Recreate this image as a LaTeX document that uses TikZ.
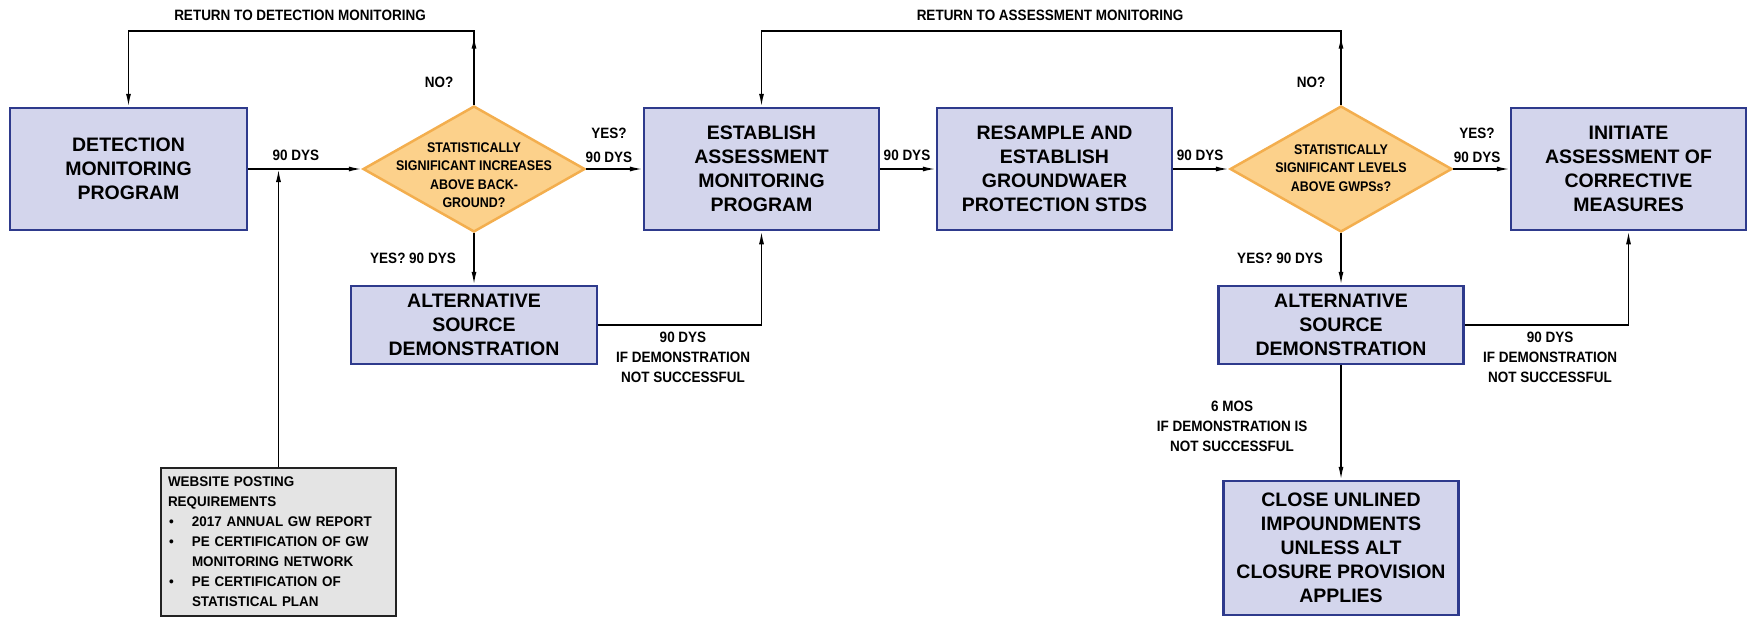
\documentclass[tikz,border=0pt]{standalone}
\usepackage{fontspec}
\setmainfont{Liberation Sans}
\newfontfamily\narrowf[FakeStretch=0.9]{Liberation Sans}
\newfontfamily\narrowg[FakeStretch=0.89]{Liberation Sans}
\newfontfamily\webf[FakeStretch=0.96]{Liberation Sans}
\usetikzlibrary{shapes.geometric,arrows.meta}
\definecolor{boxfill}{HTML}{D3D5EC}
\definecolor{boxline}{HTML}{2E3A8C}
\definecolor{dfill}{HTML}{FCD18B}
\definecolor{dline}{HTML}{F3AE4E}
\definecolor{wfill}{HTML}{E4E4E4}
\definecolor{wline}{HTML}{222222}
\begin{document}
\begin{tikzpicture}[x=1pt,y=-1pt,
  box/.style={draw=boxline,fill=boxfill,line width=2.5pt,inner sep=0pt,align=center,
    font=\fontsize{19.5}{24}\selectfont\bfseries},
  dia/.style={diamond,draw=dline,fill=dfill,line width=2.5pt,inner sep=0pt},
  dtext/.style={align=center,font=\narrowg\fontsize{14}{18.5}\selectfont\bfseries,inner sep=0pt},
  lbl/.style={align=center,font=\narrowf\fontsize{15}{20}\selectfont\bfseries,inner sep=0pt},
  lbltall/.style={align=center,font=\narrowf\fontsize{15}{24}\selectfont\bfseries,inner sep=0pt},
  webbox/.style={draw=wline,fill=wfill,line width=2pt,minimum width=235pt,minimum height=148pt,
    inner xsep=7pt,inner ysep=4pt,text width=221pt,align=left,
    font=\webf\fontsize{14}{20}\selectfont\bfseries},
  arr/.style={line width=1.5pt,-{Latex[length=13pt,width=5pt]}},
  ln/.style={line width=1.5pt}]
\useasboundingbox (0,0) rectangle (1750,618);

% boxes
\node[box,minimum width=237pt,minimum height=122pt] (det) at (128.5,169) {DETECTION\\MONITORING\\PROGRAM};
\node[dia,minimum width=222pt,minimum height=126pt] (d1) at (474,169) {};
\node[dtext] (d1t) at (474,175) {STATISTICALLY\\SIGNIFICANT INCREASES\\ABOVE BACK-\\GROUND?};
\node[box,minimum width=235pt,minimum height=122pt] (est) at (761.5,169) {ESTABLISH\\ASSESSMENT\\MONITORING\\PROGRAM};
\node[box,minimum width=235pt,minimum height=122pt] (res) at (1054.5,169) {RESAMPLE AND\\ESTABLISH\\GROUNDWAER\\PROTECTION STDS};
\node[dia,minimum width=222pt,minimum height=126pt] (d2) at (1341,169) {};
\node[dtext] (d2t) at (1341,168) {STATISTICALLY\\SIGNIFICANT LEVELS\\ABOVE GWPSs?};
\node[box,minimum width=235pt,minimum height=122pt] (ini) at (1628.5,169) {INITIATE\\ASSESSMENT OF\\CORRECTIVE\\MEASURES};
\node[box,minimum width=246pt,minimum height=78pt] (alt1) at (474,325) {ALTERNATIVE\\SOURCE\\DEMONSTRATION};
\node[box,minimum width=245pt,minimum height=78pt] (alt2) at (1341,325) {ALTERNATIVE\\SOURCE\\DEMONSTRATION};
\node[box,minimum width=235pt,minimum height=134pt] (close) at (1341,548) {CLOSE UNLINED\\IMPOUNDMENTS\\UNLESS ALT\\CLOSURE PROVISION\\APPLIES};
\node[webbox] (web) at (278.5,542) {\begin{tabular}{@{}p{24pt}@{}l@{}}
\multicolumn{2}{@{}l@{}}{WEBSITE POSTING}\\
\multicolumn{2}{@{}l@{}}{REQUIREMENTS}\\
\hspace{1pt}\textbullet & 2017 ANNUAL GW REPORT\\
\hspace{1pt}\textbullet & PE CERTIFICATION OF GW\\
 & MONITORING NETWORK\\
\hspace{1pt}\textbullet & PE CERTIFICATION OF\\
 & STATISTICAL PLAN
\end{tabular}};

% labels
\node[lbl] (l1) at (300,15) {RETURN TO DETECTION MONITORING};
\node[lbl] (l2) at (439,82) {NO?};
\node[lbl] (l3) at (296,155) {90 DYS};
\node[lbltall] (l4) at (609,145) {YES?\\90 DYS};
\node[lbl] (l5) at (413,258) {YES? 90 DYS};
\node[lbl] (l6) at (683,357) {90 DYS\\IF DEMONSTRATION\\NOT SUCCESSFUL};
\node[lbl] (l7) at (1050,15) {RETURN TO ASSESSMENT MONITORING};
\node[lbl] (l8) at (907,155) {90 DYS};
\node[lbl] (l9) at (1200,155) {90 DYS};
\node[lbl] (l10) at (1311,82) {NO?};
\node[lbltall] (l11) at (1477,145) {YES?\\90 DYS};
\node[lbl] (l12) at (1280,258) {YES? 90 DYS};
\node[lbl] (l13) at (1550,357) {90 DYS\\IF DEMONSTRATION\\NOT SUCCESSFUL};
\node[lbl] (l14) at (1232,426) {6 MOS\\IF DEMONSTRATION IS\\NOT SUCCESSFUL};

\coordinate (top) at (0,31);

% connectors
\draw[arr] (det.east) -- (d1.west);
\draw[arr] (web.north) -- (web.north |- det.east);
\draw[arr] (d1.north) -- ++(0,-69);
\draw[arr] (d1.north) -- (d1.north |- top) -| (det.north);
\draw[arr] (d1.east) -- (est.west);
\draw[arr] (d1.south) -- (alt1.north);
\draw[arr] (alt1.east) -| (est.south);
\draw[arr] (est.east) -- (res.west);
\draw[arr] (res.east) -- (d2.west);
\draw[arr] (d2.east) -- (ini.west);
\draw[arr] (d2.north) -- ++(0,-69);
\draw[arr] (d2.north) -- (d2.north |- top) -| (est.north);
\draw[arr] (d2.south) -- (alt2.north);
\draw[arr] (alt2.east) -| (ini.south);
\draw[arr] (alt2.south) -- (close.north);
\end{tikzpicture}
\end{document}
